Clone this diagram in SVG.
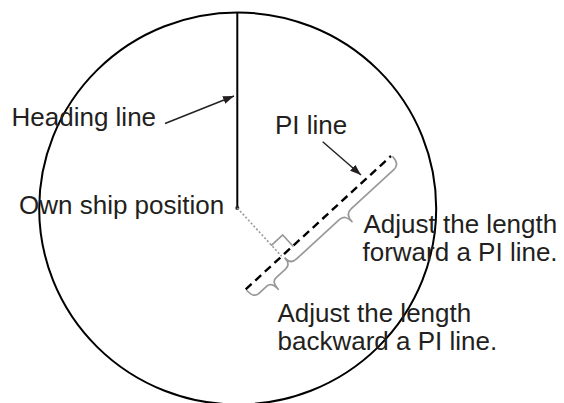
<svg xmlns="http://www.w3.org/2000/svg" width="564" height="403" viewBox="0 0 564 403">
<style>
.lbl{font-family:"Liberation Sans",Arial,sans-serif;font-size:26px;fill:#231f20}
.blk{fill:none;stroke:#000;stroke-width:2}
.gry{fill:none;stroke:#999;stroke-width:1.7;stroke-linejoin:round;stroke-linecap:round}
.arr{fill:none;stroke:#231f20;stroke-width:1.4;marker-end:url(#ah)}
</style>
<defs>
<marker id="ah" markerUnits="userSpaceOnUse" markerWidth="12" markerHeight="8" refX="11" refY="4" orient="auto">
<path d="M0,0 L11,4 L0,8 Z" fill="#231f20"/>
</marker>
</defs>
<rect width="564" height="403" fill="#fff"/>
<g id="scope">
<ellipse cx="237.7" cy="208.5" rx="198.5" ry="196" class="blk"/>
</g>
<g id="heading-line">
<line x1="237.3" y1="12.5" x2="237.3" y2="208" class="blk"/>
</g>
<g id="own-ship">
<circle cx="237.3" cy="208" r="2" fill="#231f20"/>
<line x1="237.3" y1="208" x2="281.65" y2="256.3" stroke="#999" stroke-width="1.6" stroke-dasharray="2,2"/>
</g>
<g id="pi-line">
<line x1="245.7" y1="289.3" x2="391" y2="156" stroke="#000" stroke-width="2.4" stroke-dasharray="8,5"/>
<g transform="translate(245.7,289.3) rotate(-42.53)">
<path class="gry" d="M49,-15 L64,-15 L64,0"/>
<path id="brace-forward" class="gry" d="M198,2 Q198,12 190,12 L132,12 Q124,12 124,22 Q124,12 116,12 L58,12 Q50,12 50,4"/>
<path id="brace-backward" class="gry" d="M0,2 Q0,12 7,12 L18,12 Q24,12 24,22 Q24,12 30,12 L43,12 Q50,12 50,4"/>
</g>
</g>
<g id="labels">
<text class="lbl" x="11.5" y="126">Heading line</text>
<text class="lbl" x="275" y="134.3">PI line</text>
<text class="lbl" x="19" y="213.5">Own ship position</text>
<text class="lbl" x="363.5" y="233">Adjust the length</text>
<text class="lbl" x="362.5" y="261">forward a PI line.</text>
<text class="lbl" x="277.5" y="321.7">Adjust the length</text>
<text class="lbl" x="277.5" y="350">backward a PI line.</text>
</g>
<g id="connectors">
<line class="arr" x1="165" y1="123.5" x2="234" y2="96"/>
<line class="arr" x1="322.7" y1="141.7" x2="361" y2="175"/>
</g>
</svg>
